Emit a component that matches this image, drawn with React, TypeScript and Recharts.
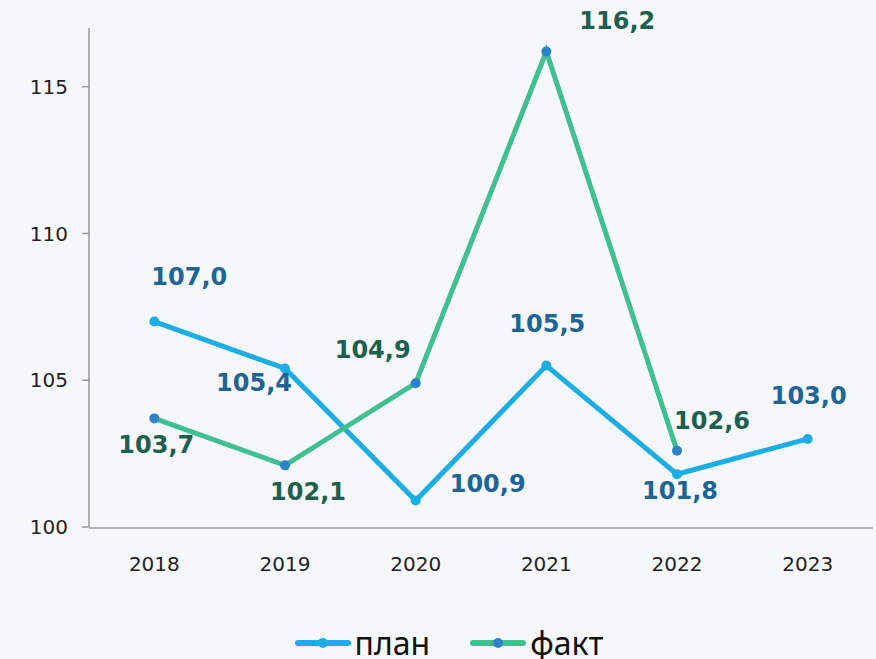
import React from 'react';
import { LineChart, Line, XAxis, YAxis, LabelList } from 'recharts';

// значения с графика
const years = ['2018', '2019', '2020', '2021', '2022', '2023'];
const plan = [107.0, 105.4, 100.9, 105.5, 101.8, 103.0];
const fact: (number | null)[] = [103.7, 102.1, 104.9, 116.2, 102.6, null];
const yTicks = [100, 105, 110, 115];

// смещения подписей относительно точек
const planShift = [[35, -45], [-31, 15], [72, -17], [1, -42], [3, 17], [1, -43]];
const factShift = [[2, 27], [23, 27], [-43, -33], [71, -30], [35, -30], [0, 0]];

const PLAN_COLOR = '#1cade4';
const FACT_COLOR = '#40bf91';
const FACT_DOT = '#2b83c9';
const PLAN_TEXT = '#1f6496';
const FACT_TEXT = '#1d6050';
const FONT = 'DejaVu Sans, Verdana, sans-serif';

const data = years.map((year, i) => ({ i, year, plan: plan[i], fact: fact[i] }));
const yearTicks = years.map((_, i) => i);
const bandEdges = [...years.map((_, i) => i - 0.5), years.length - 0.5];

const fmt = (v: number) => v.toFixed(1).replace('.', ',');

const makeLabel = (shift: number[][], color: string) => (props: any) => {
  const { x, y, index, value } = props;
  if (value == null) return null;
  const [dx, dy] = shift[index];
  return (
    <text
      x={x + dx}
      y={y + dy}
      textAnchor="middle"
      dominantBaseline="central"
      fill={color}
      fontSize={24}
      fontWeight="bold"
      fontFamily={FONT}
    >
      {fmt(value)}
    </text>
  );
};

const LegendIcon = ({ line, dot }: { line: string; dot: string }) => (
  <svg width={56} height={14} style={{ marginRight: 4 }}>
    <line x1={3} y1={7} x2={53} y2={7} stroke={line} strokeWidth={6} strokeLinecap="round" />
    <circle cx={28} cy={7} r={5} fill={dot} />
  </svg>
);

export default function App() {
  return (
    <div style={{ width: 876, height: 659, background: '#f5f7fa', position: 'relative', overflow: 'hidden' }}>
      <style>{'body{margin:0}'}</style>
      <LineChart width={876} height={659} data={data} margin={{ top: 28, right: 3, left: 29, bottom: 123 }}>
        {/* подписи годов */}
        <XAxis
          xAxisId={0}
          type="number"
          dataKey="i"
          domain={[-0.5, years.length - 0.5]}
          ticks={yearTicks}
          allowDataOverflow
          axisLine={false}
          tickLine={false}
          tickMargin={24}
          tickFormatter={(v: number) => years[v]}
          tick={{ fill: '#222', fontSize: 20, fontFamily: FONT }}
          height={1}
        />
        {/* ось и засечки на границах категорий */}
        <XAxis
          xAxisId="edges"
          type="number"
          dataKey="i"
          domain={[-0.5, years.length - 0.5]}
          ticks={bandEdges}
          allowDataOverflow
          stroke="#999"
          strokeWidth={1.5}
          tickSize={8}
          tick={false}
          height={8}
        />
        <YAxis
          domain={[100, 117]}
          ticks={yTicks}
          allowDataOverflow
          stroke="#999"
          strokeWidth={1.5}
          tickSize={7}
          tickMargin={14}
          width={60}
          tick={{ fill: '#222', fontSize: 20, fontFamily: FONT }}
        />
        <Line
          type="linear"
          dataKey="plan"
          name="план"
          stroke={PLAN_COLOR}
          strokeWidth={5}
          dot={{ r: 5, fill: PLAN_COLOR, stroke: PLAN_COLOR, strokeWidth: 0 }}
          isAnimationActive={false}
        >
          <LabelList dataKey="plan" content={makeLabel(planShift, PLAN_TEXT)} />
        </Line>
        <Line
          type="linear"
          dataKey="fact"
          name="факт"
          stroke={FACT_COLOR}
          strokeWidth={5}
          dot={{ r: 5, fill: FACT_DOT, stroke: FACT_DOT, strokeWidth: 0 }}
          isAnimationActive={false}
        >
          <LabelList dataKey="fact" content={makeLabel(factShift, FACT_TEXT)} />
        </Line>
      </LineChart>
      <div
        style={{
          position: 'absolute',
          top: 627,
          left: 0,
          width: 876,
          display: 'flex',
          justifyContent: 'center',
          alignItems: 'center',
          fontFamily: 'Noto Sans, sans-serif',
          fontSize: 32,
          lineHeight: '32px',
          color: '#111',
          paddingLeft: 22,
          boxSizing: 'border-box',
        }}
      >
        <div style={{ display: 'flex', alignItems: 'center', marginRight: 40 }}>
          <LegendIcon line={PLAN_COLOR} dot={PLAN_COLOR} />
          <span>план</span>
        </div>
        <div style={{ display: 'flex', alignItems: 'center' }}>
          <LegendIcon line={FACT_COLOR} dot={FACT_DOT} />
          <span>факт</span>
        </div>
      </div>
    </div>
  );
}
